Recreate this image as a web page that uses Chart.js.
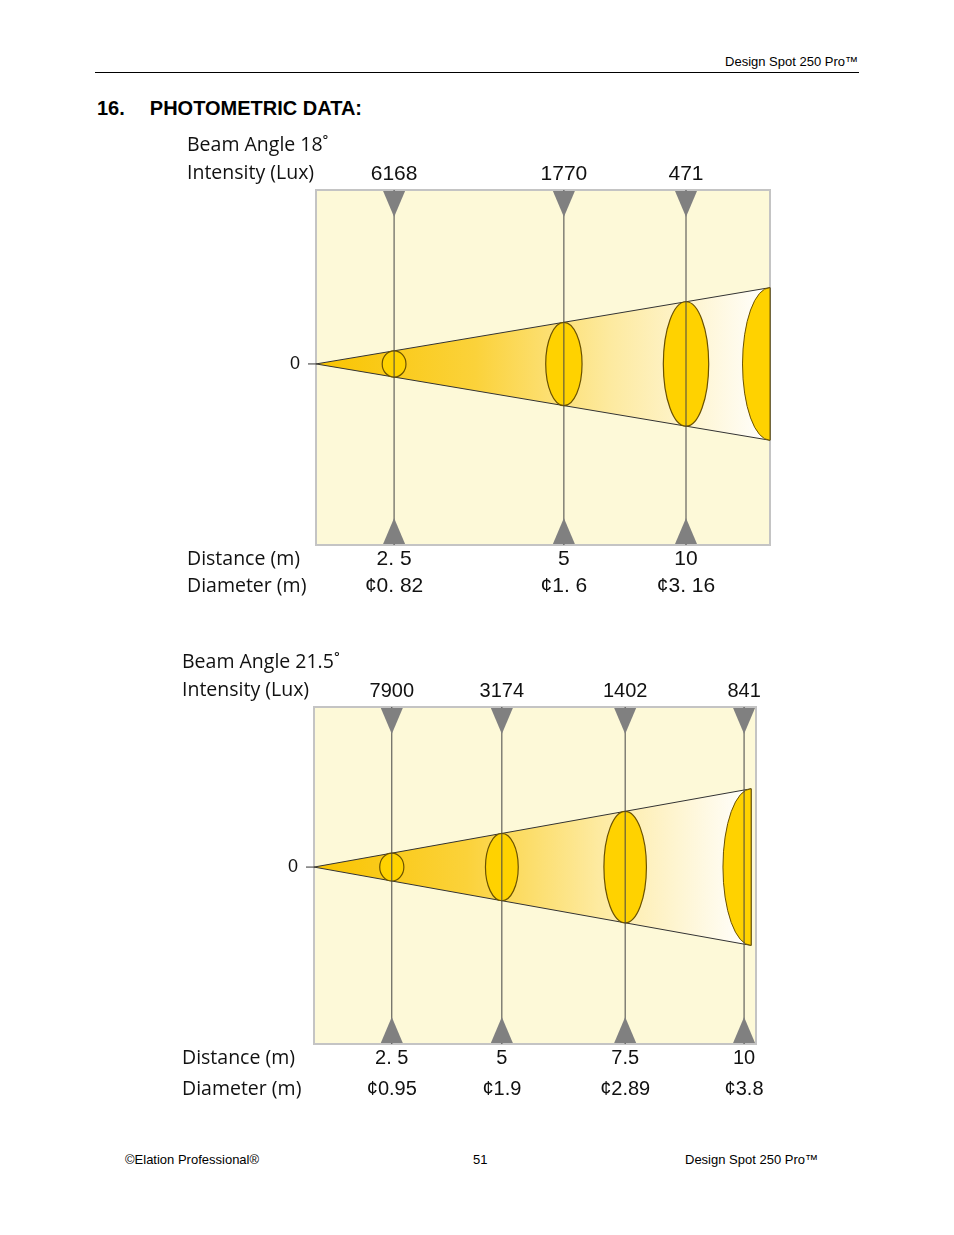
<!DOCTYPE html>
<html><head><meta charset="utf-8">
<script src="https://cdn.jsdelivr.net/npm/chart.js@4"></script>
<style>
body{margin:0;width:954px;height:1235px;position:relative;background:#fff;font-family:"Liberation Sans",Arial,sans-serif;}
.abs{position:absolute;white-space:nowrap;}
canvas{position:absolute;}
</style></head><body>
<div class="abs" style="right:96px;top:54px;font-size:13px">Design Spot 250 Pro™</div>
<div class="abs" style="left:95px;top:72px;width:764px;border-top:1px solid #000"></div>
<div class="abs" style="left:97px;top:97px;font-size:20px;font-weight:bold">16.<span style="display:inline-block;width:25px"></span>PHOTOMETRIC DATA:</div>
<div style="position:absolute;left:180px;top:130px;width:600px;height:475px"><canvas id="c1"></canvas></div>
<div style="position:absolute;left:175px;top:650px;width:600px;height:460px"><canvas id="c2"></canvas></div>
<div class="abs" style="left:125px;top:1152px;font-size:13px">©Elation Professional®</div>
<div class="abs" style="left:473px;top:1152px;font-size:13px">51</div>
<div class="abs" style="left:685px;top:1152px;font-size:13px">Design Spot 250 Pro™</div>
<script>
// panel 1: beam 18°
const beam1 = 'Beam Angle 18˚';
const dist1 = ['2. 5', '5', '10'];
const lux1 = ['6168', '1770', '471'];
const diam1 = ['¢0. 82', '¢1. 6', '¢3. 16'];
const pos1 = [17.2, 54.6, 81.5];          // schematic positions along the axis (0-100)
const spread1 = 0.43;                    // cone half-height at x=100
// panel 2: beam 21.5°
const beam2 = 'Beam Angle 21.5˚';
const dist2 = ['2. 5', '5', '7.5', '10'];
const lux2 = ['7900', '3174', '1402', '841'];
const diam2 = ['¢0.95', '¢1.9', '¢2.89', '¢3.8'];
const pos2 = [17.6, 42.5, 70.4, 97.3];
const spread2 = 0.47;
const coneEnd2 = 98.9;

const SANS = '"Open Sans", "Noto Sans", sans-serif';
const NUM = '"Liberation Sans", Arial, sans-serif';

function photoPlugin(cfg) {
  return {
    id: 'photo',
    beforeDatasetsDraw(chart) {
      const { ctx, chartArea: a, scales: { x, y } } = chart;
      ctx.save();
      ctx.fillStyle = '#fdf9d8';
      ctx.fillRect(a.left, a.top, a.width, a.height);
      ctx.strokeStyle = '#c4c4c4'; ctx.lineWidth = 2;
      ctx.strokeRect(a.left, a.top, a.width, a.height);
      // cone
      const x0 = x.getPixelForValue(0), x1 = x.getPixelForValue(cfg.coneEnd);
      const yt = y.getPixelForValue(cfg.spread * cfg.coneEnd / 100), yb = y.getPixelForValue(-cfg.spread * cfg.coneEnd / 100), yc = y.getPixelForValue(0);
      const g = ctx.createLinearGradient(x0, 0, x1, 0);
      g.addColorStop(0, '#f9c400'); g.addColorStop(0.35, '#fbd23a'); g.addColorStop(0.65, '#fdeaa0'); g.addColorStop(1, '#ffffff');
      ctx.beginPath(); ctx.moveTo(x0, yc); ctx.lineTo(x1, yt); ctx.lineTo(x1, yb); ctx.closePath();
      ctx.fillStyle = g; ctx.fill();
      ctx.strokeStyle = '#333'; ctx.lineWidth = 1; ctx.stroke();
      // end half-ellipse
      const hEnd = (yb - yt) / 2;
      ctx.beginPath(); ctx.ellipse(x1, yc, hEnd * 0.36, hEnd, 0, Math.PI / 2, Math.PI * 1.5);
      ctx.closePath(); ctx.fillStyle = '#ffd200'; ctx.fill(); ctx.strokeStyle = '#6b5200'; ctx.stroke();
      // zero tick
      ctx.beginPath(); ctx.moveTo(a.left - 8, yc); ctx.lineTo(a.left, yc); ctx.strokeStyle = '#333'; ctx.stroke();
      ctx.fillStyle = '#111'; ctx.font = '18px ' + NUM; ctx.textAlign = 'right'; ctx.textBaseline = 'middle';
      ctx.fillText('0', a.left - 16, yc);
      ctx.restore();
    },
    afterDatasetsDraw(chart) {
      const { ctx, chartArea: a, scales: { x, y } } = chart;
      ctx.save();
      cfg.pos.forEach((p, i) => {
        if (p >= cfg.coneEnd - 2) return;
        const px = x.getPixelForValue(p), yc = y.getPixelForValue(0);
        const h = yc - y.getPixelForValue(cfg.spread * p / 100);
        const rx = Math.max(11, 9 + h * 0.22);
        ctx.beginPath(); ctx.ellipse(px, yc, rx, h, 0, 0, Math.PI * 2);
        ctx.fillStyle = '#ffd200'; ctx.fill(); ctx.strokeStyle = '#6b5200'; ctx.lineWidth = 1.2; ctx.stroke();
      });
      // vertical lines and markers over ellipses
      cfg.pos.forEach(p => {
        const px = x.getPixelForValue(p);
        ctx.beginPath(); ctx.moveTo(px, a.top); ctx.lineTo(px, a.bottom);
        ctx.strokeStyle = '#444'; ctx.lineWidth = 1; ctx.stroke();
        ctx.fillStyle = '#808080';
        ctx.beginPath(); ctx.moveTo(px - 11, a.top + 1); ctx.lineTo(px + 11, a.top + 1); ctx.lineTo(px, a.top + 27); ctx.fill();
        ctx.beginPath(); ctx.moveTo(px - 11, a.bottom - 1); ctx.lineTo(px + 11, a.bottom - 1); ctx.lineTo(px, a.bottom - 27); ctx.fill();
      });
      // texts
      ctx.fillStyle = '#111'; ctx.textBaseline = 'middle';
      ctx.font = '19.5px ' + SANS; ctx.textAlign = 'left';
      ctx.fillText(cfg.beam, cfg.lblX, a.top - 45);
      ctx.fillText('Intensity (Lux)', cfg.lblX, a.top - 17);
      ctx.fillText('Distance (m)', cfg.lblX, a.bottom + 14);
      ctx.fillText('Diameter (m)', cfg.lblX, a.bottom + cfg.diamDy);
      ctx.font = cfg.numFont + ' ' + NUM; ctx.textAlign = 'center';
      cfg.pos.forEach((p, i) => {
        const px = x.getPixelForValue(p);
        ctx.fillText(cfg.lux[i], px, a.top - 16);
        ctx.fillText(cfg.dist[i], px, a.bottom + 14);
        ctx.fillText(cfg.diam[i], px, a.bottom + cfg.diamDy);
      });
      ctx.restore();
    }
  };
}

function makeChart(id, cfg, pad, ymin, ymax) {
  return new Chart(document.getElementById(id), {
    type: 'scatter',
    data: { datasets: [{ data: cfg.pos.map(p => ({ x: p, y: 0 })), pointRadius: 0 }] },
    options: {
      responsive: true, maintainAspectRatio: false, animation: false,
      layout: { padding: pad },
      plugins: { legend: { display: false }, tooltip: { enabled: false } },
      scales: {
        x: { type: 'linear', min: 0, max: 100, display: false },
        y: { type: 'linear', min: ymin, max: ymax, display: false }
      }
    },
    plugins: [photoPlugin(cfg)]
  });
}

makeChart('c1', { beam: beam1, dist: dist1, lux: lux1, diam: diam1, pos: pos1, spread: spread1, coneEnd: 100, lblX: 7, diamDy: 41, numFont: '21px' },
  { left: 136, right: 10, top: 60, bottom: 60 }, -1.02, 0.98);
makeChart('c2', { beam: beam2, dist: dist2, lux: lux2, diam: diam2, pos: pos2, spread: spread2, coneEnd: coneEnd2, lblX: 7, diamDy: 45, numFont: '20px' },
  { left: 139, right: 19, top: 57, bottom: 66 }, -1.05, 0.95);
</script>
</body></html>
